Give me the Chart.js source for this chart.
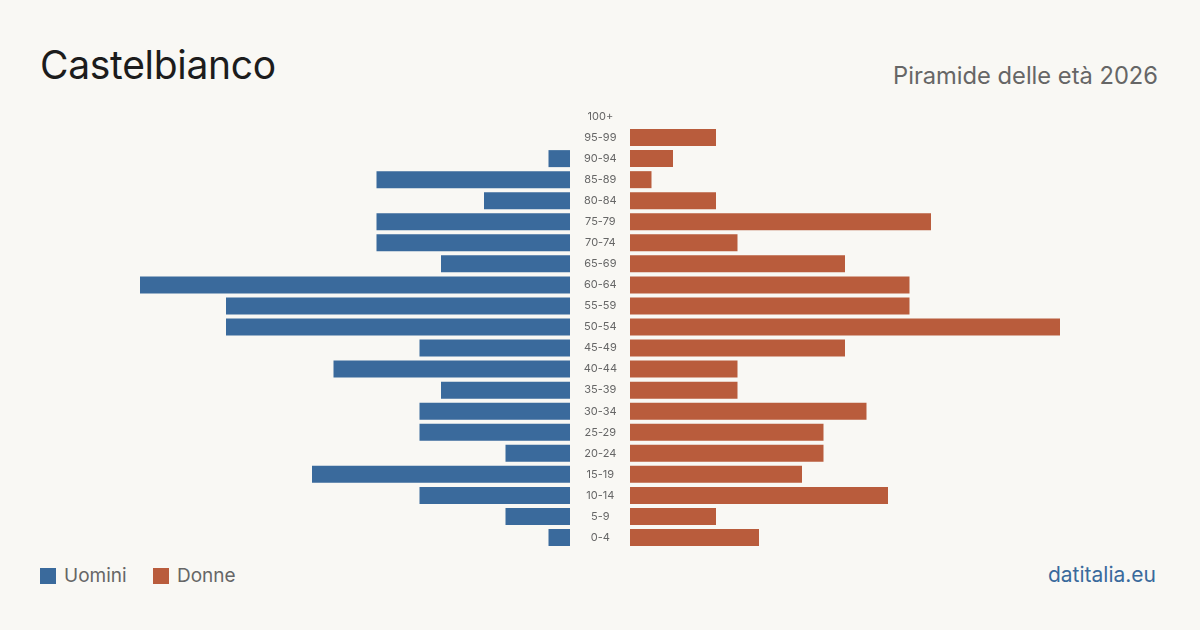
<!DOCTYPE html>
<html>
<head>
<meta charset="utf-8">
<script src="https://cdn.jsdelivr.net/npm/chart.js@4"></script>
<style>
  body { margin: 0; background: #f9f8f4; font-family: Inter, "Noto Sans", sans-serif; }
  #page { position: relative; width: 1200px; height: 630px; overflow: hidden; background: #f9f8f4; }
  #title { position: absolute; left: 40px; top: 41px; font-size: 39px; color: #1c1c1c; letter-spacing: -0.3px; }
  #subtitle { position: absolute; right: 42px; top: 61px; font-size: 23.7px; color: #666; }
  #leftChart { position: absolute; left: 140px; top: 106px; }
  #rightChart { position: absolute; left: 570px; top: 106px; }
  .legend { position: absolute; top: 564px; font-size: 19px; color: #666; display: flex; align-items: center; }
  .legend span.box { display: inline-block; width: 16px; height: 16px; margin-right: 8px; }
  #site { position: absolute; right: 44px; top: 562px; font-size: 21px; color: #3a6a9c; }
</style>
</head>
<body>
<div id="page">
  <div id="title">Castelbianco</div>
  <div id="subtitle">Piramide delle età 2026</div>
  <canvas id="leftChart" width="430" height="442"></canvas>
  <canvas id="rightChart" width="490" height="442"></canvas>
  <div class="legend" style="left:40px"><span class="box" style="background:#3a6a9c"></span>Uomini</div>
  <div class="legend" style="left:153px"><span class="box" style="background:#b95c3c"></span>Donne</div>
  <div id="site">datitalia.eu</div>
</div>
<script>
const ages = ['100+', '95-99', '90-94', '85-89', '80-84', '75-79', '70-74', '65-69', '60-64', '55-59',
    '50-54', '45-49', '40-44', '35-39', '30-34', '25-29', '20-24', '15-19', '10-14', '5-9', '0-4'];
const men = [0, 0, 1, 9, 4, 9, 9, 6, 20, 16, 16, 7, 11, 6, 7, 7, 3, 12, 7, 3, 1];
const women = [0, 4, 2, 1, 4, 14, 5, 10, 13, 13, 20, 10, 5, 5, 11, 9, 9, 8, 12, 4, 6];
const maxVal = 20;

const blue = '#3a6a9c';
const orange = '#b95c3c';

Chart.defaults.font.family = 'Inter, "Noto Sans", sans-serif';
Chart.defaults.animation = false;

// Men (left side, reversed axis)
new Chart(document.getElementById('leftChart'), {
    type: 'bar',
    data: {
        labels: ages,
        datasets: [{ label: 'Uomini', data: men, backgroundColor: blue, barThickness: 17, inflateAmount: 0 }]
    },
    options: {
        indexAxis: 'y',
        responsive: false,
        devicePixelRatio: 1,
        layout: { padding: 0 },
        plugins: { legend: { display: false }, tooltip: { enabled: false } },
        scales: {
            x: { display: false, reverse: true, min: 0, max: maxVal },
            y: { display: false }
        }
    }
});

// Women (right side) with age labels in the middle
new Chart(document.getElementById('rightChart'), {
    type: 'bar',
    data: {
        labels: ages,
        datasets: [{ label: 'Donne', data: women, backgroundColor: orange, barThickness: 17, inflateAmount: 0 }]
    },
    options: {
        indexAxis: 'y',
        responsive: false,
        devicePixelRatio: 1,
        layout: { padding: 0 },
        plugins: { legend: { display: false }, tooltip: { enabled: false } },
        scales: {
            x: { display: false, min: 0, max: maxVal },
            y: {
                grid: { display: false, drawTicks: false },
                border: { display: false },
                ticks: {
                    color: '#666',
                    font: { size: 11 },
                    crossAlign: 'center',
                    padding: 13,
                    autoSkip: false
                },
                afterFit: (scale) => {
                    scale.width = 60;
                    scale.paddingTop = 0;
                    scale.paddingBottom = 0;
                }
            }
        }
    }
});
</script>
</body>
</html>
